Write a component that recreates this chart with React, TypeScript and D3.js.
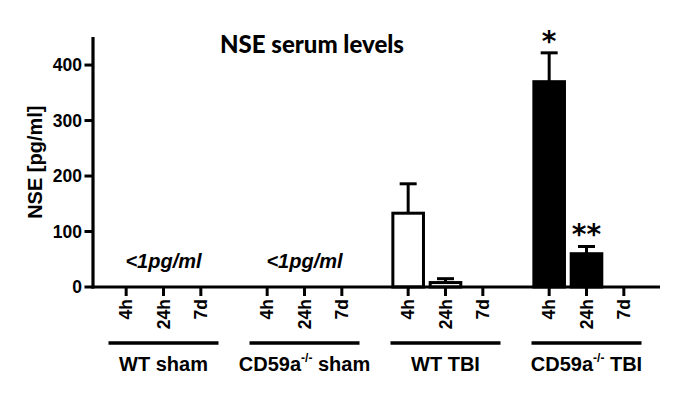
import React from "react";
import * as d3 from "d3";

const width = 685;
const height = 401;

// data
const groups = ["WT sham", "CD59a sham", "WT TBI", "CD59a TBI"];
const timepoints = ["4h", "24h", "7d"];
const meanWT = [133, 8, 0];
const semWT = [53, 7, 0];
const meanKO = [370, 60, 0];
const semKO = [52, 13, 0];
const yTicks = [0, 100, 200, 300, 400];
const stars = ["*", "**", ""];

const x0 = d3.scaleBand<string>().domain(groups).range([93, 657]).padding(0);
const x1 = d3
  .scaleBand<string>()
  .domain(timepoints)
  .range([-56, 56])
  .paddingInner(0.18)
  .paddingOuter(0.09);
const y = d3.scaleLinear().domain([0, 450]).range([287, 37.3]);

const center = (g: string) => (x0(g) as number) + x0.bandwidth() / 2;
const tickX = (g: string, t: string) =>
  center(g) + (x1(t) as number) + x1.bandwidth() / 2;

const font = "Liberation Sans, Arial, sans-serif";

const bars = [
  { group: "WT TBI", mean: meanWT, sem: semWT, fill: "#fff", stars: ["", "", ""] },
  { group: "CD59a TBI", mean: meanKO, sem: semKO, fill: "#000", stars },
];

const GroupLabel = ({ g }: { g: string }) => {
  const cx = center(g);
  const ko = g.startsWith("CD59a");
  const rest = g.replace("CD59a", "");
  return (
    <text
      x={cx}
      y={371}
      textAnchor="middle"
      fontFamily={font}
      fontWeight="bold"
      fontSize={20}
    >
      {ko ? (
        <>
          CD59a
          <tspan fontSize={12} dy={-9}>
            -/-
          </tspan>
          <tspan dy={9}>{rest}</tspan>
        </>
      ) : (
        g
      )}
    </text>
  );
};

export default function App() {
  const bw = x1.bandwidth();
  return (
    <svg width={width} height={height} style={{ display: "block", position: "absolute", left: 0, top: 0 }}>
      <rect width={width} height={height} fill="#fff" />
      <text
        x={312}
        y={53}
        textAnchor="middle"
        fontFamily="Lato, sans-serif"
        fontWeight="900"
        fontSize={24}
      >
        NSE serum levels
      </text>

      {/* y axis */}
      <line x1={93} x2={93} y1={37} y2={288.5} stroke="#000" strokeWidth={3.2} />
      {yTicks.map((t) => (
        <g key={t}>
          <line x1={84.5} x2={93} y1={y(t)} y2={y(t)} stroke="#000" strokeWidth={3} />
          <text
            x={82}
            y={y(t)}
            dy="0.36em"
            textAnchor="end"
            fontFamily={font}
            fontWeight="bold"
            fontSize={17.5}
          >
            {t}
          </text>
        </g>
      ))}
      <text
        transform={`translate(42,${y(225)}) rotate(-90)`}
        textAnchor="middle"
        fontFamily={font}
        fontWeight="bold"
        fontSize={20}
      >
        NSE [pg/ml]
      </text>

      {/* bars */}
      {bars.map((b) =>
        timepoints.map((t, i) =>
          b.mean[i] > 0 ? (
            <g key={b.group + t}>
              <line
                x1={tickX(b.group, t)}
                x2={tickX(b.group, t)}
                y1={y(b.mean[i])}
                y2={y(b.mean[i] + b.sem[i])}
                stroke="#000"
                strokeWidth={3}
              />
              <line
                x1={tickX(b.group, t) - 8.5}
                x2={tickX(b.group, t) + 8.5}
                y1={y(b.mean[i] + b.sem[i])}
                y2={y(b.mean[i] + b.sem[i])}
                stroke="#000"
                strokeWidth={3}
              />
              <rect
                x={tickX(b.group, t) - bw / 2}
                y={y(b.mean[i])}
                width={bw}
                height={y(0) - y(b.mean[i])}
                fill={b.fill}
                stroke="#000"
                strokeWidth={3}
              />
              {b.stars[i] && (
                <text
                  x={tickX(b.group, t)}
                  y={y(b.mean[i] + b.sem[i]) - 2}
                  textAnchor="middle"
                  fontFamily="DejaVu Sans, sans-serif"
                  fontWeight="bold"
                  fontSize={28}
                >
                  {b.stars[i]}
                </text>
              )}
            </g>
          ) : null
        )
      )}

      {/* x axis */}
      <line x1={91.5} x2={660} y1={287} y2={287} stroke="#000" strokeWidth={3.2} />
      {groups.map((g) => (
        <g key={g}>
          {timepoints.map((t) => (
            <g key={t}>
              <line
                x1={tickX(g, t)}
                x2={tickX(g, t)}
                y1={287}
                y2={296}
                stroke="#000"
                strokeWidth={3}
              />
              <text
                transform={`translate(${tickX(g, t)},299) rotate(-90)`}
                dy="0.36em"
                textAnchor="end"
                fontFamily={font}
                fontWeight="bold"
                fontSize={17.5}
              >
                {t}
              </text>
            </g>
          ))}
          <line
            x1={center(g) - 55}
            x2={center(g) + 55}
            y1={343}
            y2={343}
            stroke="#000"
            strokeWidth={3.5}
          />
          <GroupLabel g={g} />
          {g.includes("sham") && (
            <text
              x={center(g)}
              y={268}
              textAnchor="middle"
              fontFamily={font}
              fontWeight="bold"
              fontStyle="italic"
              fontSize={20}
            >
              {"<1pg/ml"}
            </text>
          )}
        </g>
      ))}
    </svg>
  );
}
